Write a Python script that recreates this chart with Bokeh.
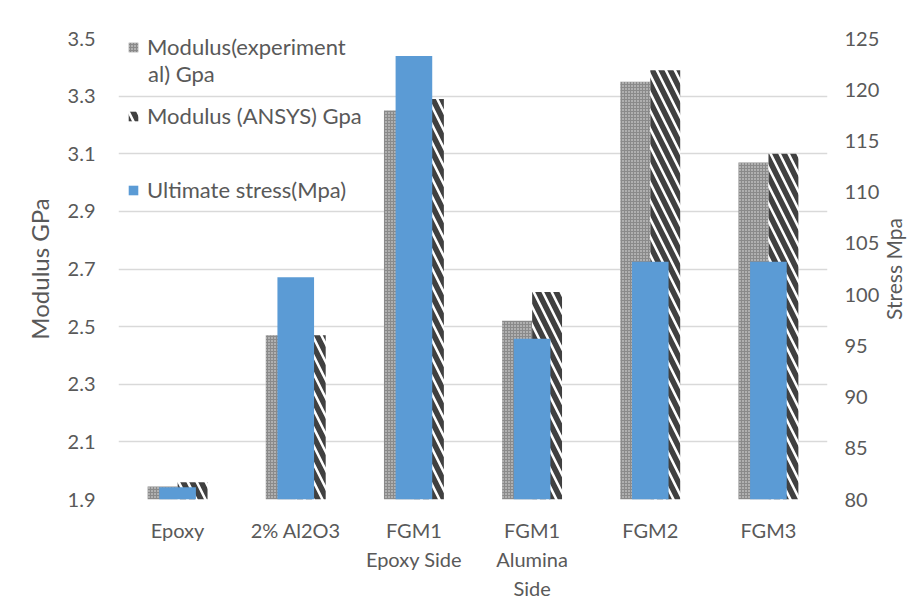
import math
from bokeh.plotting import figure
from bokeh.models import (Range1d, LinearAxis, FixedTicker, ColumnDataSource,
                          Legend, LegendItem, FactorRange, Label)
from bokeh.transform import dodge
from bokeh.embed import file_html
from bokeh.resources import INLINE

# ---- data ----
categories = ["Epoxy", "2% Al2O3", "FGM1\nEpoxy Side", "FGM1\nAlumina\nSide", "FGM2", "FGM3"]
modulus_exp = [1.945, 2.47, 3.25, 2.52, 3.35, 3.07]
modulus_ansys = [1.96, 2.47, 3.29, 2.62, 3.39, 3.10]
ultimate_stress = [81.2, 101.7, 123.3, 95.7, 103.2, 103.2]
left_ticks = [1.9, 2.1, 2.3, 2.5, 2.7, 2.9, 3.1, 3.3, 3.5]
right_ticks = [80, 85, 90, 95, 100, 105, 110, 115, 120, 125]
left_min, left_max = 1.9, 3.5
right_min, right_max = 80, 125

FONT = "Lato"
TXT = "#595959"
BLUE = "#5B9BD5"

src = ColumnDataSource(dict(cat=categories, exp=modulus_exp, ansys=modulus_ansys,
                            stress=ultimate_stress))

p = figure(x_range=FactorRange(factors=categories), y_range=Range1d(left_min, left_max),
           width=907, height=610, output_backend="svg", toolbar_location=None,
           min_border_left=118, min_border_right=77, min_border_top=38, min_border_bottom=111)
p.extra_y_ranges = {"stress": Range1d(right_min, right_max)}
p.outline_line_color = None
p.xgrid.grid_line_color = None
p.ygrid.grid_line_color = "#d9d9d9"
p.ygrid.grid_line_width = 1.3

r_exp = p.vbar(x=dodge("cat", -0.127, range=p.x_range), top="exp", bottom=left_min, width=0.253,
               source=src, fill_color="#8a8a8a", line_color=None,
               hatch_pattern="dot", hatch_color="#e8e8e8", hatch_scale=3, hatch_weight=1.4)
r_ansys = p.vbar(x=dodge("cat", 0.127, range=p.x_range), top="ansys", bottom=left_min, width=0.253,
                 source=src, fill_color="white", line_color=None,
                 hatch_pattern="left_diagonal_line", hatch_color="#404040", hatch_scale=18,
                 hatch_weight=5.5)
r_stress = p.vbar(x="cat", top="stress", bottom=right_min, width=0.31, source=src,
                  y_range_name="stress", fill_color=BLUE, line_color=None)

# axes
p.yaxis.ticker = FixedTicker(ticks=left_ticks)
ax_r = LinearAxis(y_range_name="stress", ticker=FixedTicker(ticks=right_ticks))
p.add_layout(ax_r, "right")
p.yaxis[0].axis_label = "Modulus GPa"

for ax in [p.xaxis[0], p.yaxis[0], ax_r]:
    ax.axis_line_color = None
    ax.major_tick_line_color = None
    ax.minor_tick_line_color = None
    ax.major_tick_out = 0
    ax.major_tick_in = 0
    ax.major_label_text_font = FONT
    ax.major_label_text_font_size = "20px"
    ax.major_label_text_color = TXT
    ax.axis_label_text_font = FONT
    ax.axis_label_text_font_size = "24px"
    ax.axis_label_text_font_style = "normal"
    ax.axis_label_text_color = TXT
p.yaxis[0].major_label_standoff = 23
p.yaxis[0].axis_label_standoff = 11
ax_r.major_label_standoff = 17
p.xaxis[0].major_label_standoff = 18
p.xaxis[0].major_label_text_line_height = 1.22

# right axis title in its own side slot, reading bottom to top
p.add_layout(Label(x=11, y=(left_min + left_max) / 2, x_units="screen", y_units="data",
                   text="Stress Mpa", angle=math.pi / 2, text_font=FONT,
                   text_font_size="21px", text_color=TXT,
                   text_align="center", text_baseline="middle"), "right")

# legends (separate boxes, transparent, no border)
def make_legend(label, r, loc):
    lg = Legend(items=[LegendItem(label=label, renderers=[r])], location=loc,
                background_fill_alpha=0, border_line_color=None, padding=0, margin=0,
                spacing=0, glyph_width=12, glyph_height=12, label_standoff=8,
                label_text_font=FONT, label_text_font_size="22px", label_text_color=TXT)
    p.add_layout(lg, "center")
    return lg

make_legend("Modulus(experiment", r_exp, (9, 439))
make_legend("Modulus (ANSYS) Gpa", r_ansys, (9, 370))
make_legend("Ultimate stress(Mpa)", r_stress, (9, 296))
p.add_layout(Label(x=0, y=left_max, x_offset=29.5, y_offset=-34.5, text="al) Gpa",
                   text_font=FONT, text_font_size="22px", text_color=TXT,
                   text_baseline="middle", text_align="left"))

open("out.html", "w").write(file_html(p, INLINE))
